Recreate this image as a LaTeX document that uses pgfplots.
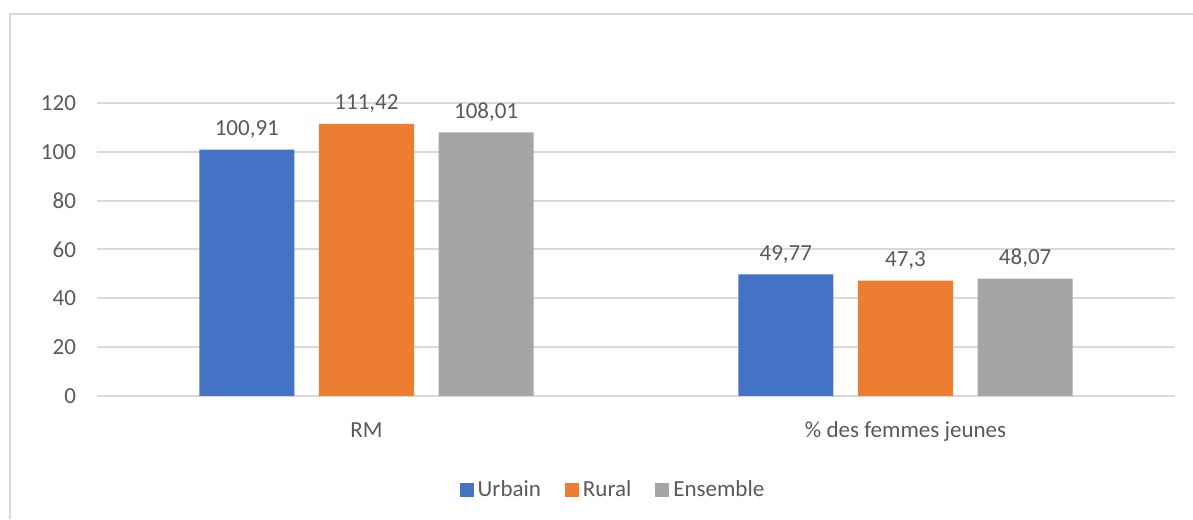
\documentclass[border=0pt]{standalone}
\usepackage{fontspec}
\setmainfont{Carlito}
\usepackage{pgfplots}
\pgfplotsset{compat=1.18}
\definecolor{cblue}{HTML}{4472C4}
\definecolor{corange}{HTML}{ED7D31}
\definecolor{cgray}{HTML}{A5A5A5}
\definecolor{cgrid}{HTML}{D9D9D9}
\definecolor{ctext}{HTML}{595959}
\begin{document}
\begin{tikzpicture}[x=1pt,y=1pt]
\path[use as bounding box] (0,0) rectangle (596.5,259.5);
\draw[cgrid,line width=1pt] (5,0) -- (5,252.5) -- (596.5,252.5);
\begin{axis}[
  at={(48.5pt,61.5pt)}, anchor=south west,
  scale only axis, width=539pt, height=146.5pt,
  xmin=-0.5, xmax=1.5, ymin=0, ymax=120,
  ybar, bar width=0.1763, bar shift=0pt,
  xtick={0,1}, xticklabels={RM, \% des femmes jeunes},
  ytick={0,20,...,120},
  axis line style={draw=none},
  major tick length=0pt,
  ymajorgrids, grid style={cgrid, line width=1pt},
  font=\fontsize{11.5}{13}\selectfont,
  ticklabel style={text=ctext},
  yticklabel style={xshift=-7pt},
  xticklabel style={anchor=base, yshift=-21pt},
  /pgf/number format/assume math mode=true,
  /pgf/number format/use comma,
  nodes near coords,
  nodes near coords style={text=ctext, font=\fontsize{11.5}{13}\selectfont, yshift=2pt},
  legend style={at={(0.4796,-0.3208)}, anchor=center, draw=none, fill=none,
    legend columns=3, font=\fontsize{11.5}{13}\selectfont, text=ctext,
    /tikz/every even column/.append style={column sep=10pt}},
  legend image code/.code={\fill[#1] (0pt,-3.5pt) rectangle (7pt,3.5pt);},
  legend cell align=left,
]
\addplot[fill=cblue, draw=none] coordinates {(-0.222,100.91) (0.778,49.77)};
\addplot[fill=corange, draw=none] coordinates {(0,111.42) (1,47.3)};
\addplot[fill=cgray, draw=none] coordinates {(0.222,108.01) (1.222,48.07)};
\legend{Urbain, Rural, Ensemble}
\end{axis}
\end{tikzpicture}
\end{document}
